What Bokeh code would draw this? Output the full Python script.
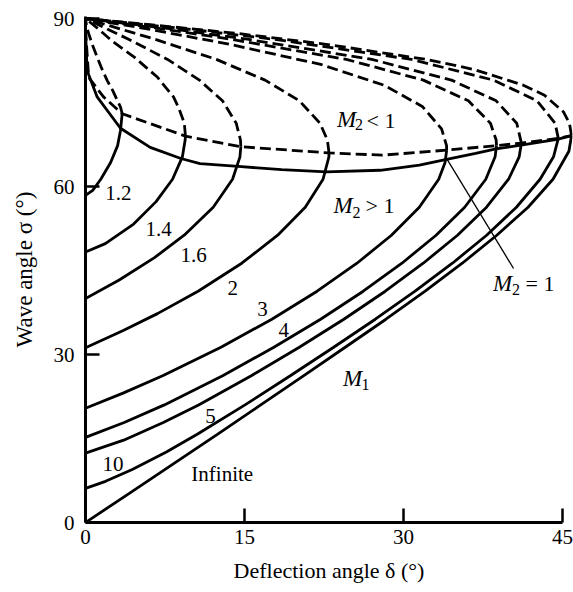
from bokeh.plotting import figure
from bokeh.models import Range1d, FixedTicker, Label
from bokeh.embed import file_html
from bokeh.resources import INLINE

FONT = "Liberation Serif"

# ---- data: deflection angle (theta, deg) and wave angle (beta, deg) ----
# each Mach number: weak branch (solid) and strong branch (dashed)
m12_weak_theta = [0, 0.68, 1.44, 2.37, 3.03, 3.30, 3.46]
m12_weak_beta = [58.4, 59.3, 61.3, 64.3, 67.3, 70.0, 73.0]
m12_strong_theta = [3.46, 3.30, 3.00, 2.55, 2.05, 1.55, 1.10, 0.65, 0.30, 0.10, 0]
m12_strong_beta = [73.0, 74.2, 75.4, 77.2, 78.9, 81.0, 83.1, 85.3, 87.3, 88.7, 90]

m14_weak_theta = [0, 1.87, 4.54, 6.66, 8.21, 9.14, 9.40, 9.43]
m14_weak_beta = [48.3, 49.8, 53.3, 57.3, 61.3, 65.3, 68.3, 69.0]
m14_strong_theta = [9.43, 9.32, 8.80, 8.30, 6.80, 4.60, 2.50, 1.30, 0]
m14_strong_beta = [69.0, 71.3, 74.0, 76.0, 79.5, 83.1, 86.0, 88.0, 90]

m16_weak_theta = [0, 3.18, 6.51, 9.31, 12.05, 13.87, 14.57, 14.65]
m16_weak_beta = [40.0, 43.3, 47.3, 51.3, 56.3, 61.3, 65.3, 67.1]
m16_strong_theta = [14.65, 14.62, 14.22, 12.92, 10.75, 7.74, 4.06, 0]
m16_strong_beta = [67.1, 68.3, 71.3, 75.3, 79.0, 82.7, 86.3, 90]

m2_weak_theta = [0, 3.56, 6.79, 10.62, 14.74, 18.13, 20.73, 22.41, 22.96, 22.97]
m2_weak_beta = [31.2, 34.3, 37.3, 41.3, 46.3, 51.3, 56.3, 61.3, 65.3, 66.0]
m2_strong_theta = [22.97, 22.82, 22.12, 20.18, 16.94, 12.34, 6.54, 0]
m2_strong_beta = [66.0, 68.3, 71.3, 75.3, 79.0, 82.7, 86.3, 90]

m3_weak_theta = [0, 3.54, 7.28, 12.78, 17.58, 21.85, 25.61, 28.86, 31.49, 33.32, 33.92, 34.07]
m3_weak_beta = [20.4, 23.1, 26.2, 31.3, 36.3, 41.3, 46.3, 51.3, 56.3, 61.3, 64.3, 66.5]
m3_strong_theta = [34.07, 34.06, 33.59, 31.77, 28.15, 22.19, 13.60, 5.67, 0]
m3_strong_beta = [66.5, 67.3, 70.3, 74.3, 78.1, 81.8, 85.4, 88.2, 90]

m4_weak_theta = [0, 3.65, 7.44, 12.94, 17.77, 22.18, 26.20, 29.85, 33.07, 35.77, 37.76, 38.64, 38.77]
m4_weak_beta = [15.2, 17.85, 21.0, 26.2, 31.3, 36.3, 41.3, 46.3, 51.3, 56.3, 61.3, 65.3, 67.3]
m4_strong_theta = [38.77, 38.74, 38.20, 36.12, 31.87, 24.60, 13.71, 7.07, 0]
m4_strong_beta = [67.3, 68.3, 71.3, 75.3, 79.0, 82.7, 86.3, 88.2, 90]

m5_weak_theta = [0, 3.60, 7.34, 10.67, 15.64, 20.17, 24.37, 28.28, 31.86, 35.09, 37.83, 39.91, 40.91, 41.12]
m5_weak_beta = [12.4, 14.7, 17.85, 21.0, 26.2, 31.3, 36.3, 41.3, 46.3, 51.3, 56.3, 61.3, 65.3, 67.75]
m5_strong_theta = [41.12, 40.68, 38.74, 34.53, 27.01, 15.26, 7.90, 0]
m5_strong_beta = [67.75, 71.3, 75.3, 79.0, 82.7, 86.3, 88.2, 90]

m10_weak_theta = [0, 1.89, 4.41, 7.63, 10.54, 15.05, 19.32, 23.41, 27.34, 31.09, 34.61, 37.84, 40.65, 42.88, 44.15, 44.60]
m10_weak_beta = [6.1, 7.35, 9.45, 12.6, 15.75, 21.0, 26.2, 31.3, 36.3, 41.3, 46.3, 51.3, 56.3, 61.3, 65.3, 68.6]
m10_strong_theta = [44.60, 44.30, 42.60, 38.48, 30.74, 17.78, 9.28, 0]
m10_strong_beta = [68.6, 71.3, 75.3, 79.0, 82.7, 86.3, 88.2, 90]

minf_weak_theta = [0, 4.17, 8.32, 12.44, 16.53, 20.56, 24.50, 28.34, 32.04, 35.54, 38.80, 41.75, 44.10, 45.60, 45.85]
minf_weak_beta = [0, 5.25, 10.5, 15.75, 21.0, 26.2, 31.3, 36.3, 41.3, 46.3, 51.3, 56.3, 61.3, 66.3, 69.1]
minf_strong_theta = [45.85, 45.65, 45.10, 43.30, 41.30, 36.65, 32.14, 22.69, 14.46, 9.83, 0]
minf_strong_beta = [69.1, 71.3, 73.3, 76.3, 78.1, 80.9, 82.7, 85.4, 87.3, 88.2, 90]

# sonic line (M2 = 1), solid
sonic_theta = [0, 0.15, 1.1, 3.3, 6.1, 9.0, 10.8, 14.4, 18.5, 22.73, 27.8, 31.5, 33.95, 36.8, 38.72, 41.08, 44.5, 45.85]
sonic_beta = [88, 80.7, 76.0, 70.4, 67.0, 65.0, 64.1, 63.6, 63.0, 62.6, 62.9, 63.8, 64.8, 65.9, 66.7, 67.4, 68.4, 69.1]

# maximum-deflection line, dashed
maxdef_theta = [0, 0.3, 1.7, 3.46, 9.43, 14.65, 22.97, 28.0, 34.07, 38.77, 41.12, 44.60, 45.85]
maxdef_beta = [88, 79.5, 76.0, 73.0, 69.0, 67.1, 66.0, 65.6, 66.5, 67.3, 67.75, 68.6, 69.1]

mach_labels = ["1.2", "1.4", "1.6", "2", "3", "4", "5", "10", "Infinite"]
x_ticks = [0, 15, 30, 45]
y_ticks = [0, 30, 60, 90]

curves = [
    (m12_weak_theta, m12_weak_beta, m12_strong_theta, m12_strong_beta),
    (m14_weak_theta, m14_weak_beta, m14_strong_theta, m14_strong_beta),
    (m16_weak_theta, m16_weak_beta, m16_strong_theta, m16_strong_beta),
    (m2_weak_theta, m2_weak_beta, m2_strong_theta, m2_strong_beta),
    (m3_weak_theta, m3_weak_beta, m3_strong_theta, m3_strong_beta),
    (m4_weak_theta, m4_weak_beta, m4_strong_theta, m4_strong_beta),
    (m5_weak_theta, m5_weak_beta, m5_strong_theta, m5_strong_beta),
    (m10_weak_theta, m10_weak_beta, m10_strong_theta, m10_strong_beta),
    (minf_weak_theta, minf_weak_beta, minf_strong_theta, minf_strong_beta),
]

p = figure(frame_width=487, frame_height=506,
           x_range=Range1d(0, 45.94), y_range=Range1d(0, 90.36),
           output_backend="svg", toolbar_location=None,
           min_border_left=85, min_border_right=1,
           min_border_top=16, min_border_bottom=66)
p.outline_line_color = None
p.xgrid.visible = False
p.ygrid.visible = False
p.background_fill_color = "white"
p.border_fill_color = "white"

LW = 2.8
DASH = "11 5"
for wt, wb, st, sb in curves:
    p.line(wt, wb, line_width=LW, line_color="black")
    p.line(st, sb, line_width=LW, line_color="black", line_dash=DASH)

p.line(sonic_theta, sonic_beta, line_width=LW, line_color="black")
p.line(maxdef_theta, maxdef_beta, line_width=LW, line_color="black", line_dash=DASH)

# leader line to the M2 = 1 label
p.line([34.0, 40.38], [65.2, 45.36], line_width=1.3, line_color="black")

# axes
for ax, ticks, bnds in ((p.xaxis, x_ticks, (0, 45)), (p.yaxis, y_ticks, (0, 90.3))):
    ax.ticker = FixedTicker(ticks=ticks)
    ax.bounds = bnds
    ax.axis_line_width = 3
    ax.axis_line_color = "black"
    ax.major_tick_in = 14
    ax.major_tick_out = 0
    ax.major_tick_line_width = 2.5
    ax.major_tick_line_color = "black"
    ax.minor_tick_line_color = None
    ax.major_label_text_font = FONT
    ax.major_label_text_font_size = "21px"
    ax.major_label_text_color = "black"
    ax.axis_label_text_font = FONT
    ax.axis_label_text_font_style = "normal"
    ax.axis_label_text_color = "black"

p.xaxis.axis_label = "Deflection angle δ (°)"
p.xaxis.axis_label_text_font_size = "22px"
p.xaxis.major_label_standoff = 7
p.xaxis.axis_label_standoff = 11
p.yaxis.axis_label = "Wave angle σ (°)"
p.yaxis.axis_label_text_font_size = "23px"
p.yaxis.major_label_standoff = 11
p.yaxis.axis_label_standoff = 14

# Mach number labels on the curves
label_pos = [(3.1, 58.9), (6.9, 52.5), (10.2, 47.7), (13.9, 41.8), (16.7, 38.2),
             (18.7, 34.3), (11.8, 19.1), (2.6, 10.5), (12.9, 8.7)]
for txt, (lx, ly) in zip(mach_labels, label_pos):
    p.add_layout(Label(x=lx, y=ly, text=txt, text_font=FONT, text_font_size="21px",
                       text_align="center", text_baseline="middle", text_color="black"))

def mlabel(mx, my, sub, sx, sy, rest=None, rx=None, ry=None):
    p.add_layout(Label(x=mx, y=my, text="M", text_font=FONT, text_font_size="23px",
                       text_font_style="italic", text_align="center", text_baseline="middle",
                       text_color="black"))
    p.add_layout(Label(x=sx, y=sy, text=sub, text_font=FONT, text_font_size="16px",
                       text_align="center", text_baseline="middle", text_color="black"))
    if rest:
        p.add_layout(Label(x=rx, y=ry, text=rest, text_font=FONT, text_font_size="22px",
                           text_align="left", text_baseline="middle", text_color="black"))

mlabel(25.19, 25.71, "1", 26.42, 24.64)
mlabel(24.62, 71.96, "2", 25.80, 71.07, "< 1", 26.51, 71.79)
mlabel(24.29, 56.61, "2", 25.57, 55.36, "> 1", 26.42, 56.61)
mlabel(39.34, 42.68, "2", 40.61, 41.61, "= 1", 41.51, 42.68)

open("out.html", "w").write(file_html(p, INLINE))
